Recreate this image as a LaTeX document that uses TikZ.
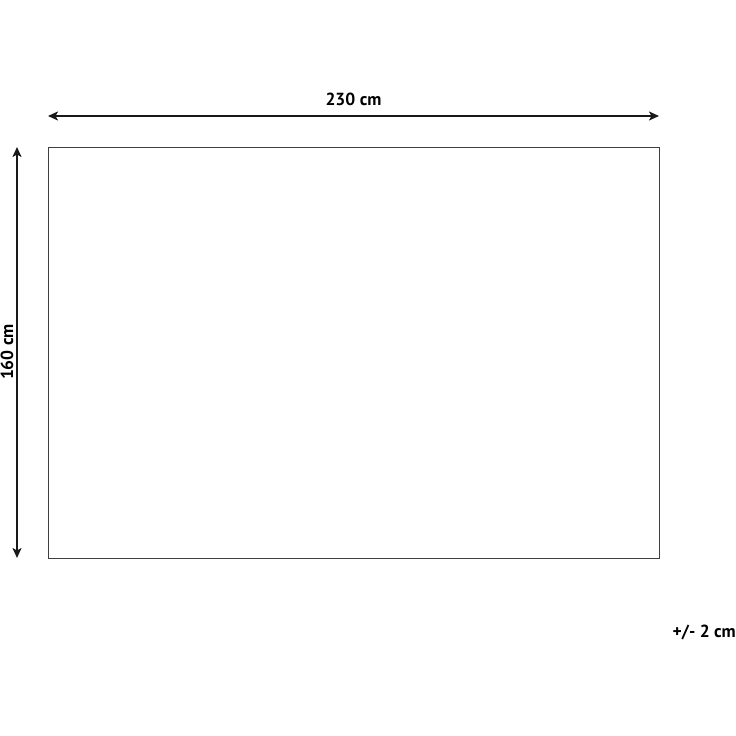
\documentclass[tikz,border=0pt]{standalone}
\usepackage{fontspec}
\setmainfont{PT Sans}
\usepackage{tikz}
\usetikzlibrary{arrows.meta, calc}
\tikzset{dim/.style={<->, >={Stealth[length=10pt, width=9pt, inset=2.5pt]},
    line width=2pt, draw=black!90}}
\tikzset{lbl/.style={font=\bfseries\fontsize{17.5}{20}\selectfont, inner sep=0pt}}

\begin{document}
\begin{tikzpicture}[x=1pt, y=-1pt]
      \useasboundingbox (0,0) rectangle (736,736);
      \node[draw=black!75, line width=0.8pt, minimum width=611pt, minimum height=411pt,
        anchor=north west, inner sep=0pt] (rug) at (48,147) {};
      \coordinate (tl) at (48,116);
      \coordinate (tr) at (659,116);
      \coordinate (lt) at (17,147);
      \coordinate (lb) at (17,558);
      \draw[dim] (tl) -- node[lbl, above=9pt] {230 cm} (tr);
      \draw[dim] (lt) -- (lb);
      \node[lbl, rotate=90] (height) at (7,352) {160 cm};
      \node[lbl, anchor=east] (tol) at (736,632) {+/- 2 cm};
    \end{tikzpicture}
\end{document}
